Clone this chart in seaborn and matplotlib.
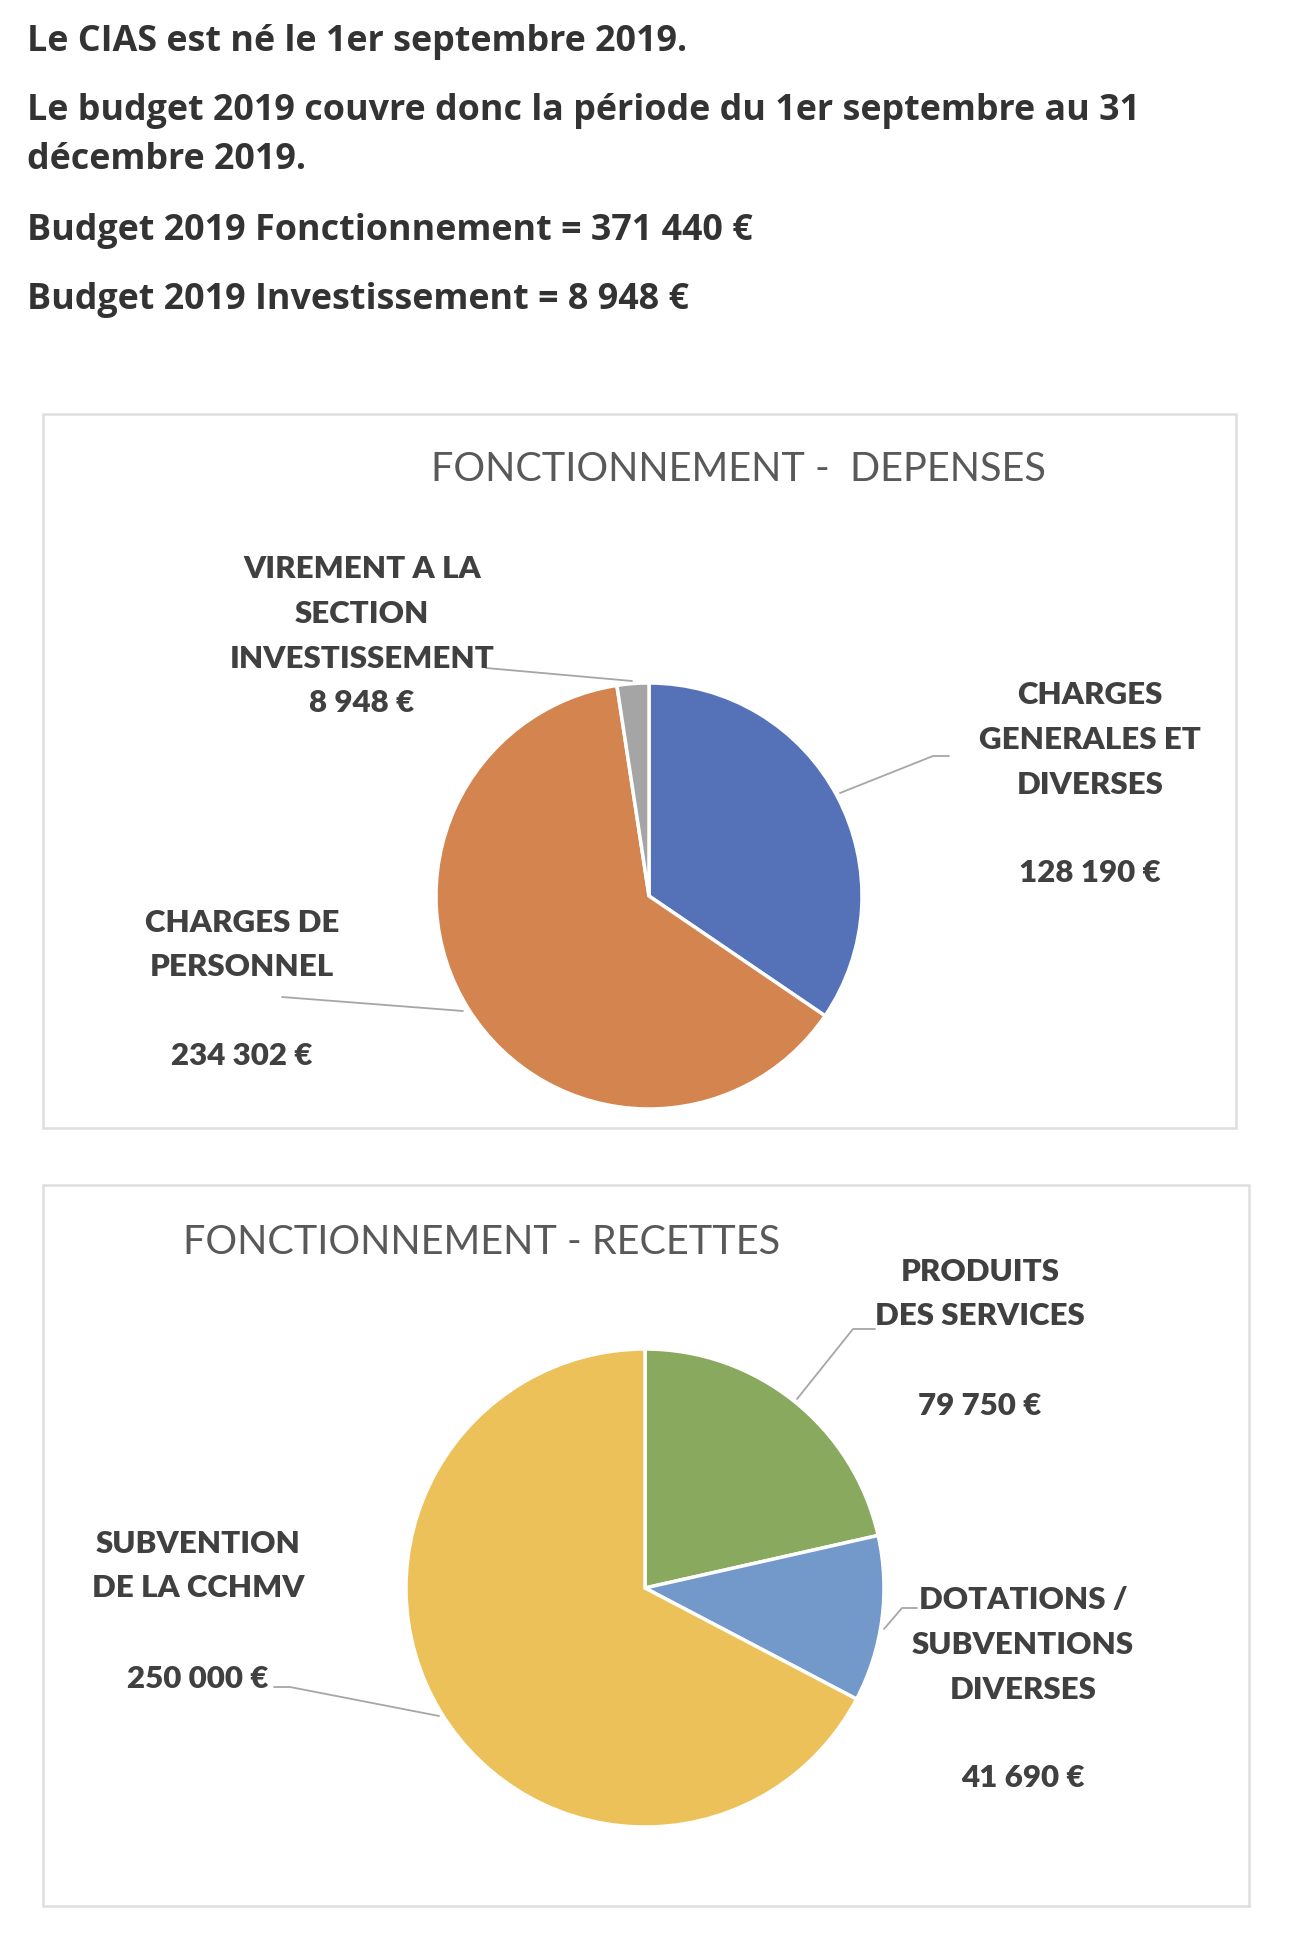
import matplotlib
matplotlib.use("Agg")
import matplotlib.pyplot as plt
import matplotlib.patches as mpatches
import seaborn as sns

# Donnees
intro_lignes = [
    "Le CIAS est né le 1er septembre 2019.",
    "Le budget 2019 couvre donc la période du 1er septembre au 31",
    "décembre 2019.",
    "Budget 2019 Fonctionnement = 371 440 €",
    "Budget 2019 Investissement = 8 948 €",
]

depenses_titre = "FONCTIONNEMENT -  DEPENSES"
depenses_labels = ["CHARGES\nGENERALES ET\nDIVERSES", "CHARGES DE\nPERSONNEL", "VIREMENT A LA\nSECTION\nINVESTISSEMENT"]
depenses_valeurs = [128190, 234302, 8948]
depenses_couleurs = ["#5572B9", "#D3844F", "#A5A5A5"]

recettes_titre = "FONCTIONNEMENT - RECETTES"
recettes_labels = ["PRODUITS\nDES SERVICES", "DOTATIONS /\nSUBVENTIONS\nDIVERSES", "SUBVENTION\nDE LA CCHMV"]
recettes_valeurs = [79750, 41690, 250000]
recettes_couleurs = ["#89AA5E", "#7399CB", "#ECC15A"]

W, H = 1292, 1938

sns.set_theme(style="white")
plt.rcParams["font.family"] = ["Open Sans", "DejaVu Sans"]


def Y(y):
    return H - y


def euros(v):
    return f"{v:,}".replace(",", " ") + " €"


fig = plt.figure(figsize=(W / 100, H / 100), dpi=100)
ax = fig.add_axes([0, 0, 1, 1])

# Texte d'introduction
intro_y = [42, 111, 160, 231, 300]
for texte, y in zip(intro_lignes, intro_y):
    ax.text(27, Y(y), texte, fontsize=25.8, fontweight="bold", color="#333333",
            ha="left", va="center")

# Cadres des graphiques
ax.add_patch(mpatches.Rectangle((43, Y(1128)), 1193, 714, fill=False,
                                edgecolor="#DEDEDE", linewidth=1.8))
ax.add_patch(mpatches.Rectangle((43, Y(1906)), 1206, 721, fill=False,
                                edgecolor="#DEDEDE", linewidth=1.8))

style_label = dict(fontsize=22.5, fontweight="heavy", color="#404040",
                   ha="center", va="center", family=["Lato", "DejaVu Sans"],
                   linespacing=1.72)
style_titre = dict(fontsize=28.5, fontweight="normal", color="#595959",
                   ha="center", va="center", family=["Lato", "DejaVu Sans"])
ligne = dict(color="#A6A6A6", linewidth=1.3)

# Camembert des depenses
ax.pie(depenses_valeurs, colors=depenses_couleurs, startangle=90, counterclock=False,
       center=(649, Y(896)), radius=213, frame=True,
       wedgeprops=dict(edgecolor="white", linewidth=2.5))
ax.text(738, Y(469), depenses_titre, **style_titre)

ax.text(1090, Y(740), depenses_labels[0], **style_label)
ax.text(1090, Y(873), euros(depenses_valeurs[0]), **style_label)
ax.plot([949, 933, 840], [Y(756), Y(756), Y(793)], **ligne)

ax.text(242, Y(945), depenses_labels[1], **style_label)
ax.text(242, Y(1056), euros(depenses_valeurs[1]), **style_label)
ax.plot([282, 463], [Y(997), Y(1011)], **ligne)

ax.text(362, Y(614), depenses_labels[2], **style_label)
ax.text(362, Y(703), euros(depenses_valeurs[2]), **style_label)
ax.plot([486, 632], [Y(668), Y(681)], **ligne)

# Camembert des recettes
ax.pie(recettes_valeurs, colors=recettes_couleurs, startangle=90, counterclock=False,
       center=(645, Y(1588)), radius=239, frame=True,
       wedgeprops=dict(edgecolor="white", linewidth=2.5))
ax.text(482, Y(1243), recettes_titre, **style_titre)

ax.text(980, Y(1294), recettes_labels[0], **style_label)
ax.text(980, Y(1406), euros(recettes_valeurs[0]), **style_label)
ax.plot([875, 853, 797], [Y(1329), Y(1329), Y(1399)], **ligne)

ax.text(1023, Y(1645), recettes_labels[1], **style_label)
ax.text(1023, Y(1778), euros(recettes_valeurs[1]), **style_label)
ax.plot([917, 902, 884], [Y(1608), Y(1608), Y(1629)], **ligne)

ax.text(198, Y(1566), recettes_labels[2], **style_label)
ax.text(198, Y(1679), euros(recettes_valeurs[2]), **style_label)
ax.plot([274, 290, 439], [Y(1687), Y(1687), Y(1716)], **ligne)

ax.set_xlim(0, W)
ax.set_ylim(0, H)
ax.set_aspect("equal")
ax.axis("off")

fig.savefig("out.png", dpi=100, facecolor="white")
